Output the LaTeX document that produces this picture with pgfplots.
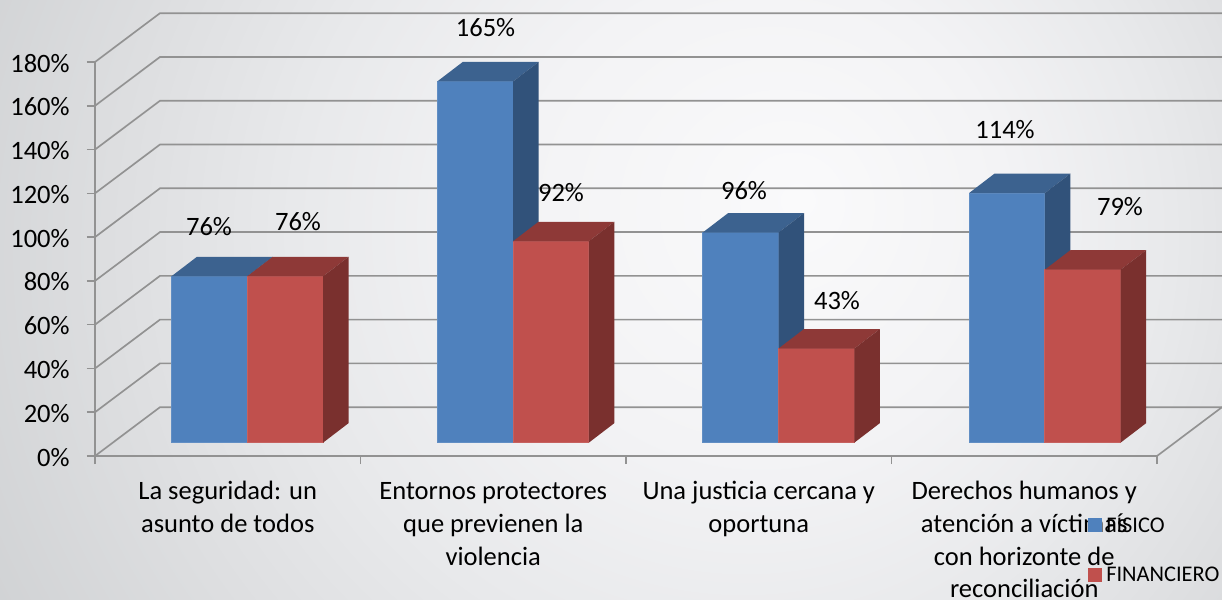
\documentclass[border=0pt]{standalone}
\usepackage{pgfplots}
\pgfplotsset{compat=1.18}
\usepackage{fontspec}
\setmainfont{Carlito}

\definecolor{gridc}{HTML}{929292}
\definecolor{blueF}{HTML}{4F81BD}
\definecolor{blueT}{HTML}{3C628F}
\definecolor{blueS}{HTML}{31527A}
\definecolor{redF}{HTML}{C0504D}
\definecolor{redT}{HTML}{8E3937}
\definecolor{redS}{HTML}{7A302E}

\definecolor{bgA}{HTML}{FAFAFB}
\definecolor{bgB}{HTML}{F3F3F5}
\definecolor{bgC}{HTML}{E8E9EB}
\definecolor{bgD}{HTML}{DEDFE1}
\definecolor{bgE}{HTML}{CED0D2}
\definecolor{bgF}{HTML}{C2C3C5}
\pgfdeclareradialshading{backdrop}{\pgfpoint{7.75bp}{4.2bp}}{%
  color(0bp)=(bgA);
  color(10bp)=(bgB);
  color(18bp)=(bgC);
  color(24bp)=(bgD);
  color(33bp)=(bgE);
  color(50bp)=(bgF)}

% x0 = left edge of the bar, value in percent, then front/top/side colours
\newcommand{\cuboid}[5]{%
  \addplot[forget plot,fill=#3,draw=#3!90!white,line width=0.5pt] coordinates
    {({#1},6.1) ({#1+0.2855},6.1) ({#1+0.2855},{#2+6.1}) ({#1},{#2+6.1}) ({#1},6.1)};
  \addplot[forget plot,fill=#4,draw=none] coordinates
    {({#1},{#2+6.1}) ({#1+0.2855},{#2+6.1}) ({#1+0.2855+0.096},{#2+15}) ({#1+0.096},{#2+15}) ({#1},{#2+6.1})};
  \addplot[forget plot,fill=#5,draw=none] coordinates
    {({#1+0.2855},6.1) ({#1+0.2855+0.096},15) ({#1+0.2855+0.096},{#2+15}) ({#1+0.2855},{#2+6.1}) ({#1+0.2855},6.1)};
}
\newcommand{\bigfont}{\fontsize{19.9}{24.5}\selectfont}

\begin{document}
\begin{tikzpicture}[x=0.75pt,y=0.75pt]
\path[use as bounding box] (0,0) rectangle (1222,600);
\begin{scope}
\clip (0,0) rectangle (1222,600);
\shade[shading=backdrop] (0,-300) rectangle (1222,900);
\end{scope}
\begin{axis}[
  at={(71.25pt,108pt)},anchor=south west,
  scale only axis,width=796.5pt,height=295.5pt,
  xmin=0,xmax=4,ymin=0,ymax=180,
  clip=false,
  axis lines=left,
  axis line style={-,draw=gridc,line width=1.25pt},
  tick style={draw=gridc,line width=1.1pt},
  tick align=outside,
  major tick length=6pt,
  xtick={0,1,2,3,4},
  xticklabels={},
  extra x ticks={0.5,1.5,2.5,3.5},
  extra x tick labels={\strut La seguridad: un\\asunto de todos,
    \strut Entornos protectores\\que previenen la\\violencia,
    \strut Una justicia cercana y\\oportuna,
    \strut Derechos humanos y\\atención a víctimas\\con horizonte de\\reconciliación},
  extra x tick style={major tick length=0pt},
  xticklabel style={align=center,font=\bigfont,yshift=-12.3pt},
  ytick={0,20,...,180},
  yticklabels={0\%,20\%,40\%,60\%,80\%,100\%,120\%,140\%,160\%,180\%},
  yticklabel style={font=\bigfont,xshift=-9.5pt,yshift=-0.8pt},
  legend style={at={(axis cs:3.724,-24)},anchor=north west,draw=none,fill=none,
    font=\fontsize{16.8}{20}\selectfont,row sep=20pt,
    legend cell align=left},
  legend image code/.code={\fill[#1] (0pt,-4.9pt) rectangle (9.8pt,4.9pt); \path (11.3pt,0pt);},
]
% floor and walls
\pgfplotsinvokeforeach{0,20,...,180}{
  \draw[gridc,line width=1.25pt] (axis cs:0,#1) -- (axis cs:0.2448,#1+22.3) -- (axis cs:4.2448,#1+22.3);
}
\draw[gridc,line width=1.25pt] (axis cs:4,0) -- (axis cs:4.2448,22.3);

\cuboid{0.288}{76}{blueF}{blueT}{blueS}
\cuboid{0.5735}{76}{redF}{redT}{redS}
\cuboid{1.289}{165}{blueF}{blueT}{blueS}
\cuboid{1.5745}{92}{redF}{redT}{redS}
\cuboid{2.289}{96}{blueF}{blueT}{blueS}
\cuboid{2.5745}{43}{redF}{redT}{redS}
\cuboid{3.292}{114}{blueF}{blueT}{blueS}
\cuboid{3.5775}{79}{redF}{redT}{redS}

\addlegendimage{blueF}
\addlegendentry{FÍSICO}
\addlegendimage{redF}
\addlegendentry{FINANCIERO}
\end{axis}
% data labels, positions as in the source slide
\begin{scope}[every node/.style={font=\bigfont}]
\node at (209,373) {76\%};
\node at (298,378) {76\%};
\node at (485.5,572) {165\%};
\node at (561,407) {92\%};
\node at (744,409) {96\%};
\node at (837,299) {43\%};
\node at (1005,470) {114\%};
\node at (1120,393) {79\%};
\end{scope}
\end{tikzpicture}
\end{document}
